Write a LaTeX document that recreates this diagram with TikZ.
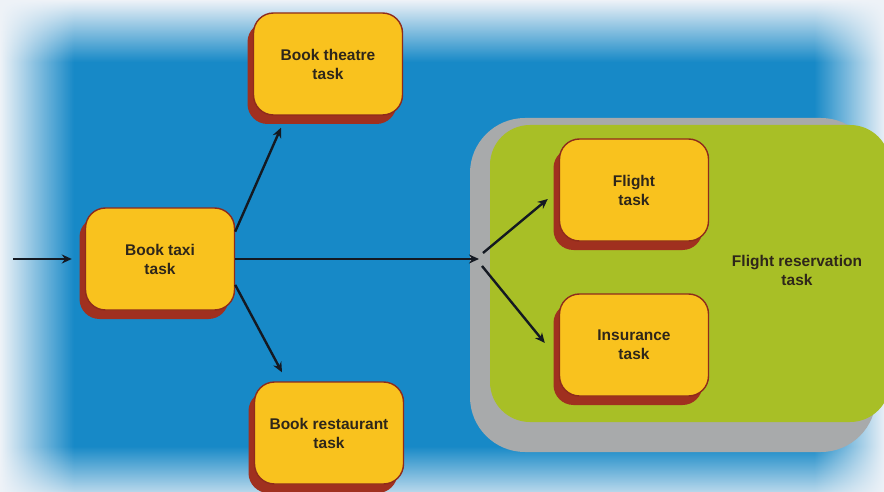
\documentclass[tikz,border=0pt]{standalone}
\usepackage{fontspec}
\setmainfont{Liberation Sans}
\usetikzlibrary{shadows,fadings,arrows.meta}

\definecolor{bgblue}{HTML}{1789C7}
\definecolor{haze}{HTML}{EFF3F8}
\definecolor{taskyellow}{HTML}{F9C21E}
\definecolor{taskedge}{HTML}{8E2B1C}
\definecolor{taskshadow}{HTML}{A0301F}
\definecolor{groupgreen}{HTML}{A8BF26}
\definecolor{groupgray}{HTML}{A8AAAB}
\definecolor{ink}{HTML}{2E261A}
\definecolor{arrowink}{HTML}{141922}

% soft edges of the backdrop: opaque at the outer border, clear inside
\tikzfading[name=hazeL, left color=transparent!0, right color=transparent!100]
\tikzfading[name=hazeR, left color=transparent!100, right color=transparent!0]
\tikzfading[name=hazeT, top color=transparent!0, bottom color=transparent!100]
\tikzfading[name=hazeB, top color=transparent!100, bottom color=transparent!0]

\tikzset{
  task/.style={rectangle, rounded corners=20pt, fill=taskyellow,
    draw=taskedge, line width=1.4pt, minimum width=149pt, minimum height=102pt,
    align=center, text=ink, font=\bfseries\fontsize{15.5}{19}\selectfont,
    drop shadow={shadow xshift=-6pt, shadow yshift=-9pt, fill=taskshadow, opacity=1}},
  grouplabel/.style={align=center, text=ink, font=\bfseries\fontsize{15.5}{19}\selectfont},
  flow/.style={draw=arrowink, line width=2.4pt, -{Stealth[length=10pt,width=9pt]}},
}

\begin{document}
\begin{tikzpicture}[x=1pt, y=-1pt]
\useasboundingbox (0,0) rectangle (884,492);

% backdrop
\fill[bgblue] (0,0) rectangle (884,492);
\fill[haze, path fading=hazeL] (0,-20) rectangle (74,520);
\fill[haze, path fading=hazeT] (-20,0) rectangle (904,62);
\fill[haze, opacity=0.75, path fading=hazeB] (-20,446) rectangle (904,492);
\fill[haze, path fading=hazeR] (814,-20) rectangle (886,520);

% flight reservation group
\fill[groupgray, rounded corners=55pt] (470,118) rectangle (876,452);
\fill[groupgreen, rounded corners=40pt] (490,125) rectangle (890,422);
\node[grouplabel] (reslabel) at (797,270) {Flight reservation\\task};

% tasks
\node[task] (taxi) at (160,259) {Book taxi\\task};
\node[task] (theatre) at (328,64) {Book theatre\\task};
\node[task] (restaurant) at (329,433) {Book restaurant\\task};
\node[task] (flight) at (634,190) {Flight\\task};
\node[task] (insurance) at (634,345) {Insurance\\task};

% connectors
\coordinate (inlet) at (13,259);
\coordinate (fork) at (479,259);
\coordinate (forkup) at (483,253);
\coordinate (forkdown) at (482,266);

\draw[flow, shorten >=13pt] (inlet) -- (taxi.west);
\draw[flow] (taxi.east) -- (fork);
\draw[flow] (taxi.20) -- ([xshift=-47pt, yshift=-12pt]theatre.south);
\draw[flow] (taxi.-19) -- ([xshift=-47pt, yshift=9pt]restaurant.north);
\draw[flow] (forkup) -- ([xshift=-11pt, yshift=-9pt]flight.west);
\draw[flow] (forkdown) -- ([xshift=-14pt, yshift=2pt]insurance.west);
\end{tikzpicture}
\end{document}
